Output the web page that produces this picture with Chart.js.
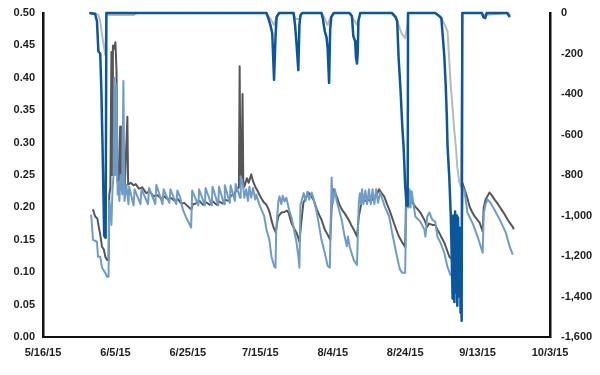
<!DOCTYPE html>
<html>
<head>
<meta charset="utf-8">
<script src="https://cdn.jsdelivr.net/npm/chart.js@4.4.0/dist/chart.umd.min.js"></script>
<style>
html,body{margin:0;padding:0;background:#fff;}
#wrap{width:600px;height:375px;}
</style>
</head>
<body>
<div id="wrap"><canvas id="c" width="600" height="375"></canvas></div>
<script>
// x values are days since 5/16/15
const xTickLabels = ['5/16/15','6/5/15','6/25/15','7/15/15','8/4/15','8/24/15','9/13/15','10/3/15'];

// left axis series
const darkGrayLine = [
[13.8,0.197],[14.4,0.186],[15.0,0.183],[15.4,0.170],[15.8,0.158],[16.3,0.139],[16.8,0.135],[17.2,0.124],[17.7,0.119],[18.1,0.119],
[18.3,0.22],[18.6,0.23],[18.9,0.44],[19.1,0.25],[19.3,0.45],[19.7,0.445],[20.0,0.455],[20.3,0.41],[20.6,0.24],[21.0,0.23],[21.3,0.325],[21.5,0.23],[22.0,0.24],[22.6,0.235],[23.3,0.34],[23.5,0.235],
[24.2,0.238],[25.0,0.234],[25.6,0.236],[26.5,0.229],[27.4,0.231],[28.5,0.222],[29.5,0.225],[30.5,0.217],[31.5,0.219],[32.6,0.214],[33.5,0.217],[34.6,0.212],[35.3,0.215],[36.4,0.210],[37.2,0.213],[38.2,0.206],[39.0,0.207],[40.3,0.200],[41.0,0.197],[41.4,0.205],[42.2,0.206],[43.2,0.210],[44.2,0.204],[45.0,0.208],[46.0,0.204],[46.9,0.209],[48.0,0.204],[48.7,0.209],[49.6,0.206],[50.3,0.212],[51.2,0.210],[51.9,0.218],[52.8,0.220],[53.5,0.228],[54.1,0.231],
[54.3,0.418],[54.5,0.26],[54.8,0.245],[55.1,0.375],[55.3,0.24],[55.6,0.232],[56.3,0.245],[56.8,0.238],[57.5,0.251],[58.0,0.240],[58.6,0.232],[59.3,0.225],[59.9,0.218],[60.5,0.212],[61.1,0.207],[61.7,0.204],[62.2,0.198],[62.6,0.192],[63.1,0.180],[63.6,0.170],[64.3,0.161],[64.6,0.175],[65.0,0.186],[65.8,0.192],[66.7,0.193],[67.4,0.195],[67.8,0.192],[68.6,0.176],[69.3,0.168],[70.0,0.161],[70.5,0.153],[70.8,0.147],
[71.2,0.170],[71.9,0.207],[72.6,0.215],[73.3,0.223],[74.0,0.218],[74.7,0.212],[75.6,0.197],[76.3,0.188],[76.9,0.181],[77.8,0.166],[78.6,0.158],[79.3,0.150],[79.7,0.2],[80.3,0.228],[81.1,0.217],[81.8,0.205],[82.5,0.197],[83.4,0.190],[84.4,0.181],[85.1,0.173],[85.8,0.166],[86.7,0.155],
[87.2,0.186],[88.1,0.212],[89.0,0.210],[89.7,0.212],[90.5,0.210],[91.4,0.215],[92.2,0.220],[92.8,0.228],[93.5,0.222],[94.2,0.217],[95.0,0.205],[95.6,0.197],[96.3,0.186],[96.9,0.176],[97.6,0.165],[98.3,0.155],[99.2,0.146],[100.0,0.139],
[100.3,0.228],[100.6,0.232],[101.4,0.212],[102.1,0.207],[102.8,0.201],[103.5,0.197],[104.2,0.192],[104.8,0.186],[105.3,0.181],[106.1,0.170],[106.6,0.175],[107.5,0.173],[108.3,0.173],[108.9,0.166],[109.4,0.161],[110.1,0.153],[110.8,0.146],[111.5,0.135],[112.2,0.124],[113.0,0.120],[114.5,0.118],[115.6,0.115],
[115.8,0.238],[116.7,0.223],[117.3,0.212],[117.8,0.201],[118.5,0.193],[119.2,0.186],[119.9,0.181],[120.6,0.176],[121.4,0.163],[121.7,0.2],[122.2,0.212],[123.3,0.223],[124.0,0.218],[124.7,0.212],[125.4,0.207],[126.1,0.201],[126.8,0.195],[127.5,0.189],[128.2,0.182],[128.9,0.176],[129.7,0.170],[130.0,0.166]
];

const lightBlueLine = [
[13.3,0.189],[13.8,0.150],[14.9,0.147],[15.2,0.124],[15.8,0.124],[16.3,0.107],[17.2,0.099],[17.7,0.093],[18.1,0.093],
[18.3,0.21],[18.6,0.20],[18.9,0.173],[19.2,0.23],[19.5,0.25],[19.7,0.40],[20.0,0.25],[20.3,0.39],[20.6,0.22],[20.8,0.24],[21.1,0.21],[21.4,0.25],[21.9,0.22],[22.2,0.395],[22.5,0.21],[23.0,0.235],[23.6,0.205],
[23.8,0.232],[25.0,0.203],[25.3,0.228],[26.9,0.205],[27.2,0.228],[29.0,0.205],[29.3,0.230],[31.0,0.205],[31.3,0.235],[33.0,0.205],[33.3,0.228],[34.9,0.207],[35.2,0.228],[36.8,0.205],[37.1,0.226],[37.9,0.215],[38.6,0.197],[39.4,0.186],[40.3,0.176],[40.9,0.169],
[41.2,0.226],[42.9,0.203],[43.1,0.228],[44.7,0.203],[44.9,0.230],[46.6,0.203],[46.8,0.232],[48.4,0.203],[48.6,0.232],[50.0,0.205],[50.2,0.234],[51.6,0.207],[51.8,0.234],[53.0,0.210],[53.2,0.236],[54.4,0.215],[54.6,0.248],
[55.2,0.235],[55.6,0.215],[56.1,0.228],[56.6,0.21],[57.0,0.232],[57.5,0.215],[58.0,0.230],[58.6,0.212],[58.9,0.22],[59.7,0.205],[60.3,0.197],[61.1,0.186],[61.7,0.166],[62.5,0.150],[63.1,0.124],[63.9,0.108],[64.2,0.107],
[64.4,0.166],[65.0,0.210],[65.3,0.217],[65.8,0.205],[66.2,0.218],[66.7,0.209],[67.2,0.215],[67.8,0.200],[68.1,0.193],[68.6,0.185],[69.2,0.169],[70.0,0.146],[70.6,0.120],[70.8,0.107],
[71.1,0.204],[71.5,0.212],[72.0,0.222],[72.5,0.210],[73.0,0.224],[73.5,0.212],[74.2,0.223],[75.0,0.207],[75.6,0.192],[76.1,0.176],[76.9,0.150],[77.8,0.130],[78.6,0.110],[79.2,0.107],
[79.7,0.246],[80.0,0.205],[80.6,0.228],[81.1,0.210],[81.7,0.197],[82.5,0.180],[83.3,0.155],[83.9,0.140],[84.2,0.155],[84.7,0.139],[85.8,0.119],[86.7,0.111],
[87.2,0.207],[87.5,0.222],[87.8,0.205],[88.1,0.228],[88.5,0.205],[89.0,0.226],[89.5,0.205],[90.0,0.228],[90.5,0.205],[91.0,0.228],[91.5,0.205],[92.0,0.228],[92.5,0.207],[93.1,0.223],[94.4,0.201],[95.6,0.186],[96.4,0.161],[97.2,0.139],[98.3,0.110],[98.6,0.104],[99.2,0.099],[100.0,0.099],
[100.3,0.197],[100.6,0.222],[100.9,0.200],[101.2,0.228],[101.5,0.200],[101.8,0.225],[102.8,0.186],[104.2,0.178],[105.3,0.166],[105.6,0.155],[106.1,0.186],[106.7,0.192],[107.5,0.181],[108.3,0.178],[108.9,0.155],[109.7,0.146],[110.8,0.130],[111.7,0.108],[112.5,0.096],[113.5,0.095],[115.6,0.096],
[115.8,0.232],[116.4,0.225],[117.2,0.192],[118.6,0.176],[120.0,0.155],[121.4,0.130],[121.7,0.190],[122.2,0.205],[122.8,0.212],[123.6,0.207],[125.0,0.193],[126.4,0.178],[127.8,0.161],[128.9,0.139],[129.7,0.127]
];

// right axis series
const darkBlueLine = [
[12.8,0],[14.4,-5],[14.9,-40],[15.3,-190],[15.8,-200],[16.1,-370],[16.4,-620],[16.7,-900],[16.9,-1100],[17.3,-1110],[17.5,0],
[61.7,0],[62.3,-30],[62.8,-60],[63.3,-100],[63.8,-330],[64.2,-120],[64.5,-20],[65.2,0],
[69.2,0],[69.6,-60],[70.0,-150],[70.5,-282],[70.8,-60],[71.1,-10],[71.6,0],
[76.9,0],[77.3,-30],[77.8,-90],[78.3,-120],[78.6,-175],[79.0,-345],[79.3,-80],[79.6,-20],[80.3,0],
[84.6,0],[85.3,-15],[85.7,-115],[86.2,-140],[86.4,-215],[86.7,-250],[86.9,-200],[87.1,-40],[87.6,0],
[96.4,0],[97.4,-20],[97.8,-40],[98.2,-223],[98.7,-371],[99.2,-555],[99.6,-670],[100.0,-850],[100.4,-950],[100.7,-950],[100.8,0],
[108.3,0],[109.4,-15],[110.0,-25],[110.8,-210],[111.2,-356],[111.5,-505],[111.7,-654],[112.2,-817],[112.6,-1000],[112.8,-1150],[113.1,-1410],[113.3,-1000],[113.6,-1427],[113.8,-980],[114.1,-1380],[114.3,-1000],[114.4,-1446],[114.6,-1010],[114.9,-1400],[115.1,-1060],[115.3,-1480],[115.5,-1150],[115.6,-1520],[115.8,0],
[121.2,0],[121.6,-20],[122.1,-25],[122.5,0],[128.2,0],[128.9,-20]
];

const lightGrayLine = [
[12.8,0],[14.4,0],[15.3,-10],[15.8,-40],[16.5,-130],[17.2,-208],[17.5,-10],[25.0,-10],[26.0,0],
[61.7,0],[62.5,-20],[63.2,-40],[63.8,-60],[64.5,-20],[65.2,0],
[69.0,0],[69.8,-30],[70.8,-30],[71.6,0],
[76.9,0],[77.6,-20],[78.6,-60],[79.4,-20],[80.3,0],
[84.8,0],[85.6,-30],[86.8,-60],[87.6,0],
[96.0,0],[97.2,-20],[98.2,-60],[99.0,-100],[100.0,-125],[100.6,-60],[100.8,0],
[108.3,0],[109.4,-15],[110.0,-25],[111.0,-60],[111.7,-90],[112.2,-240],[112.6,-360],[113.1,-470],[113.6,-585],[114.0,-660],[114.4,-760],[114.9,-830],[115.4,-860],[115.8,0],
[121.0,0],[122.0,-10],[128.5,0],[129.0,-15]
];

const toPts = arr => arr.map(p => ({x: p[0], y: p[1]}));
const FONT = {family: "'Liberation Sans', Arial, sans-serif", size: 11, weight: 'bold'};
const TXT = '#1e1e1e';

new Chart(document.getElementById('c'), {
  type: 'line',
  data: {
    datasets: [
      {data: toPts(darkBlueLine), yAxisID: 'y2', borderColor: '#0b579e', borderWidth: 2.5, clip: 4},
      {data: toPts(lightBlueLine), yAxisID: 'y', borderColor: '#6f9cc6', borderWidth: 2},
      {data: toPts(darkGrayLine), yAxisID: 'y', borderColor: '#565656', borderWidth: 2},
      {data: toPts(lightGrayLine), yAxisID: 'y2', borderColor: '#b9b9b9', borderWidth: 2, clip: 4}
    ]
  },
  options: {
    responsive: false,
    animation: false,
    devicePixelRatio: 1,
    layout: {padding: {top: 13, left: 0, right: 0, bottom: 0}},
    elements: {point: {radius: 0}, line: {tension: 0, borderJoinStyle: 'round'}},
    plugins: {legend: {display: false}, tooltip: {enabled: false}},
    scales: {
      x: {
        type: 'linear', min: 0, max: 140,
        grid: {display: false, drawTicks: false},
        border: {display: true, width: 2, color: '#111'},
        ticks: {stepSize: 20, padding: 9, color: TXT, font: FONT, maxRotation: 0,
          callback: (v) => xTickLabels[Math.round(v / 20)]},
        afterFit: s => { s.height = 38; }
      },
      y: {
        position: 'left', min: 0, max: 0.5,
        grid: {display: false, drawTicks: false},
        border: {display: true, width: 2.5, color: '#111'},
        ticks: {stepSize: 0.05, padding: 8, color: TXT, font: FONT, callback: v => Number(v).toFixed(2)},
        afterFit: s => { s.width = 43; s.paddingTop = 0; s.paddingBottom = 0; }
      },
      y2: {
        position: 'right', min: -1600, max: 0,
        grid: {display: false, drawTicks: false},
        border: {display: true, width: 2.5, color: '#111'},
        ticks: {stepSize: 200, padding: 11, color: TXT, font: FONT},
        afterFit: s => { s.width = 50; s.paddingTop = 0; s.paddingBottom = 0; }
      }
    }
  }
});
</script>
</body>
</html>
